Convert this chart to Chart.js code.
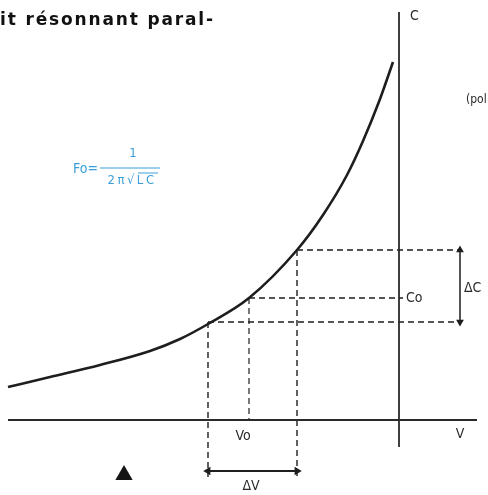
<!DOCTYPE html>
<html>
<head>
<meta charset="utf-8">
<script src="https://cdn.jsdelivr.net/npm/chart.js@4/dist/chart.umd.min.js"></script>
<style>
  html, body { margin: 0; padding: 0; background: #ffffff; }
  #wrap { width: 488px; height: 495px; position: relative; }
</style>
</head>
<body>
<div id="wrap"><canvas id="c" width="488" height="495"></canvas></div>
<script>
// ---- data (V, C) with origin at the axes crossing ----
const curveV = [-391, -349, -299, -249, -219, -191, -150, -102, -76, -52, -36, -19, -6];
const curveC = [33, 43, 55, 69, 81, 96, 122, 170, 205, 245, 279, 321, 358];

const Vo = -150, Co = 122;          // operating point
const V1 = -191, V2 = -102;         // ΔV limits
const C1 = 98,   C2 = 170;          // ΔC limits

const axisVRange = [-391, 78];
const axisCRange = [-27, 408];

const titleText = "it résonnant paral-";
const labels = ["C", "(pol", "Co", "ΔC", "V", "Vo", "ΔV"];

function pts(xs, ys) { return xs.map((x, i) => ({ x: x, y: ys[i] })); }

const ink = '#1e1e1e';
const dash = [6, 4];

const datasets = [
  { data: pts(curveV, curveC), borderColor: ink, borderWidth: 2.6, cubicInterpolationMode: 'monotone', pointRadius: 0 },
  // axes
  { data: pts(axisVRange, [0, 0]), borderColor: '#2a2a2a', borderWidth: 1.8, pointRadius: 0 },
  { data: pts([0, 0], axisCRange), borderColor: '#2a2a2a', borderWidth: 1.8, pointRadius: 0 },
  // dashed projections
  { data: pts([V2, 63], [C2, C2]), borderColor: ink, borderWidth: 1.6, borderDash: dash, pointRadius: 0 },
  { data: pts([Vo, 4], [Co, Co]), borderColor: ink, borderWidth: 1.3, borderDash: dash, pointRadius: 0 },
  { data: pts([V1, 63], [C1, C1]), borderColor: ink, borderWidth: 1.6, borderDash: dash, pointRadius: 0 },
  { data: pts([V1, V1], [C1, -57]), borderColor: ink, borderWidth: 1.4, borderDash: dash, pointRadius: 0 },
  { data: pts([Vo, Vo], [Co, 0]), borderColor: ink, borderWidth: 1.2, borderDash: dash, pointRadius: 0 },
  { data: pts([V2, V2], [C2, -57]), borderColor: ink, borderWidth: 1.4, borderDash: dash, pointRadius: 0 },
  // ΔC and ΔV arrows
  { data: pts([61, 61], [C2, C1]), borderColor: ink, borderWidth: 1.5, pointStyle: 'triangle',
    pointRadius: 3, pointRotation: [0, 180], pointBackgroundColor: ink, pointBorderColor: ink },
  { data: pts([V1, V2], [-51, -51]), borderColor: ink, borderWidth: 1.8, pointStyle: 'triangle',
    pointRadius: 3, pointRotation: [270, 90], pointBackgroundColor: ink, pointBorderColor: ink },
  // figure marker ▲
  { data: [{ x: -275, y: -55 }], showLine: false, pointStyle: 'triangle', pointRadius: 10,
    pointBackgroundColor: '#151515', pointBorderColor: '#151515', borderWidth: 0 }
];

const LF = '"Liberation Sans Narrow", "DejaVu Sans Condensed", "DejaVu Sans", sans-serif';

const textPlugin = {
  id: 'texts',
  afterDatasetsDraw(chart) {
    const ctx = chart.ctx, xs = chart.scales.x, ys = chart.scales.y;
    const X = v => xs.getPixelForValue(v), Y = c => ys.getPixelForValue(c);
    const hasLS = ('letterSpacing' in ctx);
    ctx.save();
    // title fragment (bold, black)
    ctx.fillStyle = '#111';
    ctx.font = 'bold 17px "DejaVu Sans", Arial, sans-serif';
    ctx.textBaseline = 'alphabetic';
    ctx.textAlign = 'left';
    const w = ctx.measureText(titleText).width;
    const sp = (213 - w) / (titleText.length - 1);
    if (hasLS) { ctx.letterSpacing = sp.toFixed(2) + 'px'; }
    ctx.fillText(titleText, 0, 25);
    if (hasLS) { ctx.letterSpacing = '0px'; }

    // axis / annotation labels
    ctx.fillStyle = '#2a2a2a';
    ctx.textBaseline = 'middle';
    const put = (t, v, c, align, size) => {
      ctx.font = (size || 14) + 'px ' + LF;
      ctx.textAlign = align; ctx.fillText(t, X(v), Y(c));
    };
    put(labels[0], 11, 404, 'left', 14);
    put(labels[1], 67, 320, 'left', 12);
    put(labels[2], 7, Co, 'left', 14);
    put(labels[3], 65, 132, 'left', 14);
    put(labels[4], 61, -14, 'center', 14);
    put(labels[5], Vo - 6, -16, 'center', 14);
    put(labels[6], -148, -66, 'center', 14);

    // formula Fo = 1 / (2π√LC) in cyan
    const cy = '#3a9fd8';
    ctx.fillStyle = cy; ctx.strokeStyle = cy;
    ctx.font = '14px ' + LF;
    ctx.textAlign = 'right';
    ctx.fillText('Fo=', X(-301), Y(251));
    ctx.font = '13px ' + LF;
    ctx.textAlign = 'center';
    ctx.fillText('1', X(-266), Y(266));
    ctx.lineWidth = 1.2;
    ctx.beginPath(); ctx.moveTo(X(-299), Y(252)); ctx.lineTo(X(-239), Y(252)); ctx.stroke();
    if (hasLS) { ctx.letterSpacing = '2.5px'; }
    ctx.fillText('2π√LC', X(-267), Y(239));
    if (hasLS) { ctx.letterSpacing = '0px'; }
    // radical overline
    ctx.lineWidth = 1;
    ctx.beginPath(); ctx.moveTo(X(-261), Y(247)); ctx.lineTo(X(-241), Y(247)); ctx.stroke();
    ctx.restore();
  }
};

new Chart(document.getElementById('c'), {
  type: 'scatter',
  data: { datasets: datasets.map(d => Object.assign({ showLine: true, fill: false }, d)) },
  options: {
    responsive: false,
    animation: false,
    layout: { padding: 0, autoPadding: false },
    plugins: { legend: { display: false }, tooltip: { enabled: false }, title: { display: false } },
    scales: {
      x: { type: 'linear', min: -399, max: 89, display: false },
      y: { type: 'linear', min: -75, max: 420, display: false }
    }
  },
  plugins: [textPlugin]
});
</script>
</body>
</html>
